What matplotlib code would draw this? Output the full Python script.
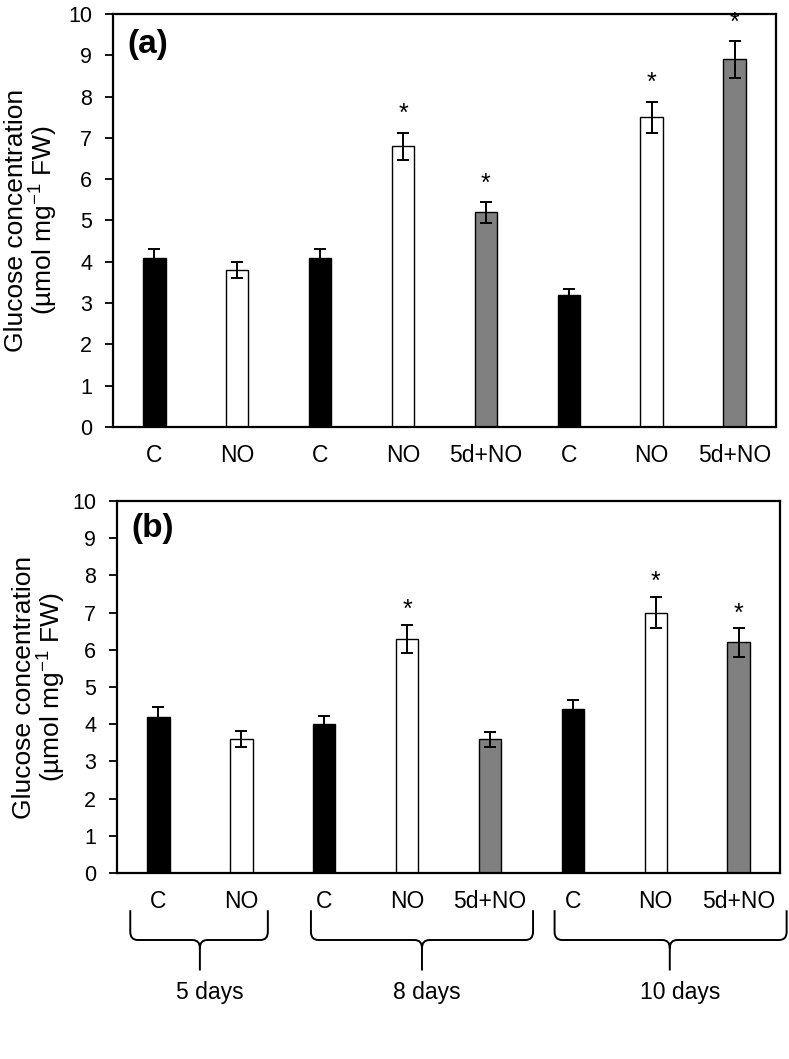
import matplotlib
matplotlib.use("Agg")
import matplotlib.pyplot as plt
from matplotlib.path import Path
from matplotlib.patches import PathPatch
import matplotlib.transforms as mtransforms

plt.rcParams['font.family'] = ['Liberation Sans', 'DejaVu Sans']
plt.rcParams['mathtext.fontset'] = 'custom'
plt.rcParams['mathtext.rm'] = 'Liberation Sans'
plt.rcParams['mathtext.it'] = 'Liberation Sans:italic'
plt.rcParams['mathtext.bf'] = 'Liberation Sans:bold'

categories = ["C", "NO", "C", "NO", "5d+NO", "C", "NO", "5d+NO"]
treatment = ["C", "NO", "C", "NO", "5d", "C", "NO", "5d"]
vals_a = [4.1, 3.8, 4.1, 6.8, 5.2, 3.2, 7.5, 8.9]
err_a = [0.2, 0.2, 0.2, 0.33, 0.25, 0.15, 0.38, 0.45]
sig_a = [False, False, False, True, True, False, True, True]
vals_b = [4.2, 3.6, 4.0, 6.3, 3.6, 4.4, 7.0, 6.2]
err_b = [0.25, 0.22, 0.23, 0.38, 0.2, 0.25, 0.42, 0.38]
sig_b = [False, False, False, True, False, False, True, True]
groups = ["5 days", "8 days", "10 days"]

colors = {"C": "#000000", "NO": "#ffffff", "5d": "#808080"}

fig = plt.figure(figsize=(7.89, 10.59), dpi=100)
ax_a = fig.add_axes([0.1432, 0.5968, 0.8403, 0.39])
ax_b = fig.add_axes([0.1483, 0.1756, 0.8403, 0.3513])

ylabel = "Glucose concentration\n(µmol mg$^{-1}$ FW)"


def draw(ax, vals, errs, sigs, panel, labx, star_off):
    x = list(range(len(vals)))
    cols = [colors[t] for t in treatment]
    ax.bar(x, vals, width=0.27, color=cols, edgecolor="black", linewidth=1.0, zorder=2)
    ax.errorbar(x, vals, yerr=errs, fmt="none", ecolor="black", elinewidth=1.4,
                capsize=4, capthick=1.4, zorder=3)
    for xi, v, e, s in zip(x, vals, errs, sigs):
        if s:
            ax.annotate("*", (xi, v + e), xytext=(0, star_off), textcoords="offset points",
                        ha="center", va="bottom", fontsize=18)
    ax.set_xlim(-0.5, 7.5)
    ax.set_ylim(0, 10)
    ax.set_yticks(range(0, 11))
    ax.set_xticks(x)
    ax.set_xticklabels(categories)
    ax.tick_params(axis="x", length=0, pad=12, labelsize=16.5)
    ax.tick_params(axis="y", length=6, width=1.3, pad=9, labelsize=15.5, direction="out")
    for sp in ax.spines.values():
        sp.set_linewidth(1.6)
    ax.set_ylabel(ylabel, fontsize=19, linespacing=1.0)
    ax.yaxis.set_label_coords(labx, 0.5)
    ax.text(0.021, 0.927, panel, transform=ax.transAxes, fontsize=24,
            fontweight="bold", ha="left", va="center")


draw(ax_a, vals_a, err_a, sig_a, "(a)", -0.08, 4.5)
draw(ax_b, vals_b, err_b, sig_b, "(b)", -0.074, 2.0)

# braces under panel b
trans = mtransforms.blended_transform_factory(ax_b.transData, ax_b.transAxes)
brace_spans = [(-0.34, 1.32, 0.5), (1.84, 4.52, 3.18), (4.78, 7.58, 6.17)]
label_x = [0.62, 3.24, 6.30]
yt, ym, yb = -0.10, -0.18, -0.262
rx, ry = 0.09, 0.022
for (x0, x1, xm), g, lx in zip(brace_spans, groups, label_x):
    verts = [(x0, yt), (x0, ym + ry), (x0, ym), (x0 + rx, ym),
             (xm - rx, ym), (xm, ym), (xm, ym - ry), (xm, yb),
             (xm, ym - ry), (xm, ym), (xm + rx, ym),
             (x1 - rx, ym), (x1, ym), (x1, ym + ry), (x1, yt)]
    codes = [Path.MOVETO, Path.LINETO, Path.CURVE3, Path.CURVE3,
             Path.LINETO, Path.CURVE3, Path.CURVE3, Path.LINETO,
             Path.MOVETO, Path.CURVE3, Path.CURVE3,
             Path.LINETO, Path.CURVE3, Path.CURVE3, Path.LINETO]
    patch = PathPatch(Path(verts, codes), transform=trans, fill=False,
                      edgecolor="black", linewidth=1.4, clip_on=False)
    ax_b.add_patch(patch)
    ax_b.text(lx, -0.32, g, transform=trans, ha="center", va="center", fontsize=16.5)

fig.savefig("out.png", dpi=100)
